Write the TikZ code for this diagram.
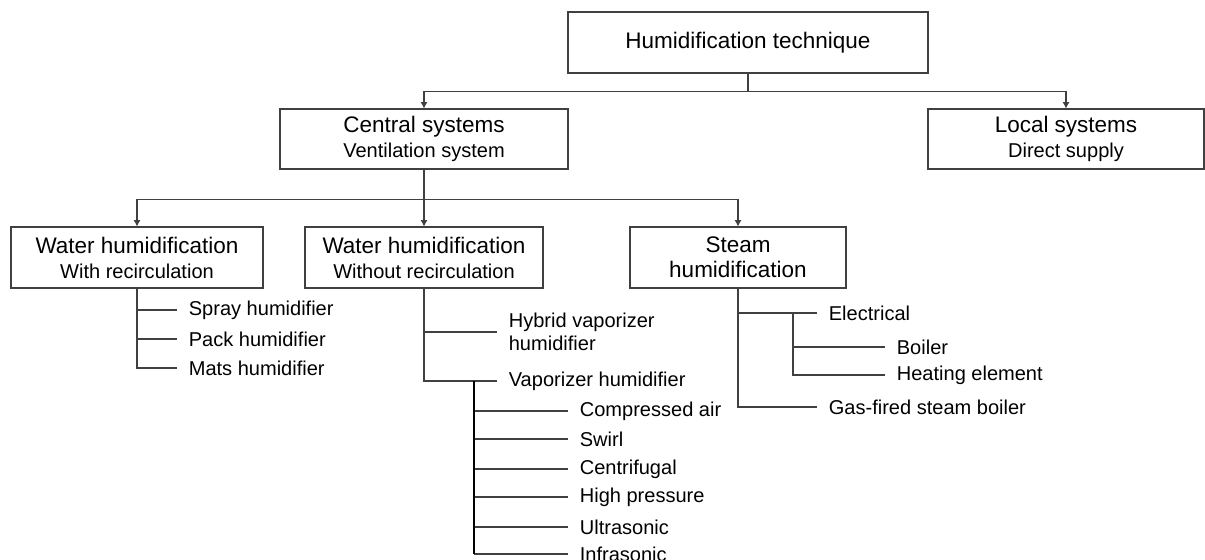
\documentclass[tikz,border=0pt]{standalone}
\usepackage{fontspec}
\setmainfont{Liberation Sans}
\usetikzlibrary{arrows.meta}
\usetikzlibrary{calc}

\newcommand{\boxtitle}[2]{{\fontsize{12.8}{14.2}\selectfont #1}\\{\fontsize{11.4}{14.2}\selectfont #2}}

\tikzset{
  catbox/.style={draw=black!75, line width=0.6pt, rectangle, align=center,
    inner sep=0pt, font=\fontsize{12.8}{14.2}\selectfont},
  leaf/.style={anchor=west, inner xsep=0.23cm, inner ysep=0pt, align=left,
    font=\fontsize{11.4}{13.1}\selectfont},
  link/.style={draw=black!75, line width=0.6pt},
  tip/.style={link, -{Latex[length=3.6pt,width=4pt]}}
}

\begin{document}
\begin{tikzpicture}
  \useasboundingbox (0,0) rectangle (24.1,11.2);

  % categories
  \node [catbox, minimum width=7.2cm, minimum height=1.22cm] (tech) at (14.96,10.35) {Humidification technique};
  \node [catbox, minimum width=5.76cm, minimum height=1.2cm] (central) at (8.48,8.42) {\boxtitle{Central systems}{Ventilation system}};
  \node [catbox, minimum width=5.52cm, minimum height=1.2cm] (local) at (21.32,8.42) {\boxtitle{Local systems}{Direct supply}};
  \node [catbox, minimum width=5.04cm, minimum height=1.22cm] (waterwith) at (2.74,6.05) {\boxtitle{Water humidification}{With recirculation}};
  \node [catbox, minimum width=4.76cm, minimum height=1.22cm] (waterwithout) at (8.48,6.05) {\boxtitle{Water humidification}{Without recirculation}};
  \node [catbox, minimum width=4.32cm, minimum height=1.22cm] (steam) at (14.76,6.05) {Steam\\humidification};

  \draw [tip] (tech.south) -- ++(0,-0.36) -| (central.north);
  \draw [tip] (tech.south) -- ++(0,-0.36) -| (local.north);
  \draw [tip] (central.south) -- ++(0,-0.6) -| (waterwith.north);
  \draw [tip] (central.south) -- (waterwithout.north);
  \draw [tip] (central.south) -- ++(0,-0.6) -| (steam.north);

  % water with recirculation
  \node [leaf] (spray) at (3.54,5.0) {Spray humidifier};
  \node [leaf] (pack) at (3.54,4.42) {Pack humidifier};
  \node [leaf] (mats) at (3.54,3.84) {Mats humidifier};
  \foreach \n in {spray,pack,mats}
    \draw [link] (waterwith.south) |- (\n.west);

  % water without recirculation
  \node [leaf] (hybrid) at (9.94,4.56) {Hybrid vaporizer\\humidifier};
  \node [leaf] (vapor) at (9.94,3.58) {Vaporizer humidifier};
  \draw [link] (waterwithout.south) |- (hybrid.west);
  \draw [link] (waterwithout.south) |- (vapor.west);
  \coordinate (vapfork) at (9.48,3.58);

  \node [leaf] (compr) at (11.36,2.98) {Compressed air};
  \node [leaf] (swirl) at (11.36,2.42) {Swirl};
  \node [leaf] (centri) at (11.36,1.82) {Centrifugal};
  \node [leaf] (highp) at (11.36,1.26) {High pressure};
  \node [leaf] (ultra) at (11.36,0.66) {Ultrasonic};
  \node [leaf] (infra) at (11.36,0.12) {Infrasonic};
  \foreach \n in {compr,swirl,centri,highp,ultra,infra}
    \draw [link] (vapfork |- \n.west) -- (\n.west);
  \draw [line width=1.1pt] (vapfork) -- (vapfork |- infra.west);

  % steam
  \node [leaf] (electr) at (16.34,4.94) {Electrical};
  \node [leaf] (gas) at (16.34,3.06) {Gas-fired steam boiler};
  \draw [link] (steam.south) |- (electr.west);
  \draw [link] (steam.south) |- (gas.west);
  \coordinate (elfork) at (15.86,4.94);

  \node [leaf] (boiler) at (17.7,4.26) {Boiler};
  \node [leaf] (heating) at (17.7,3.7) {Heating element};
  \draw [link] (elfork) |- (boiler.west);
  \draw [link] (elfork) |- (heating.west);
\end{tikzpicture}
\end{document}
